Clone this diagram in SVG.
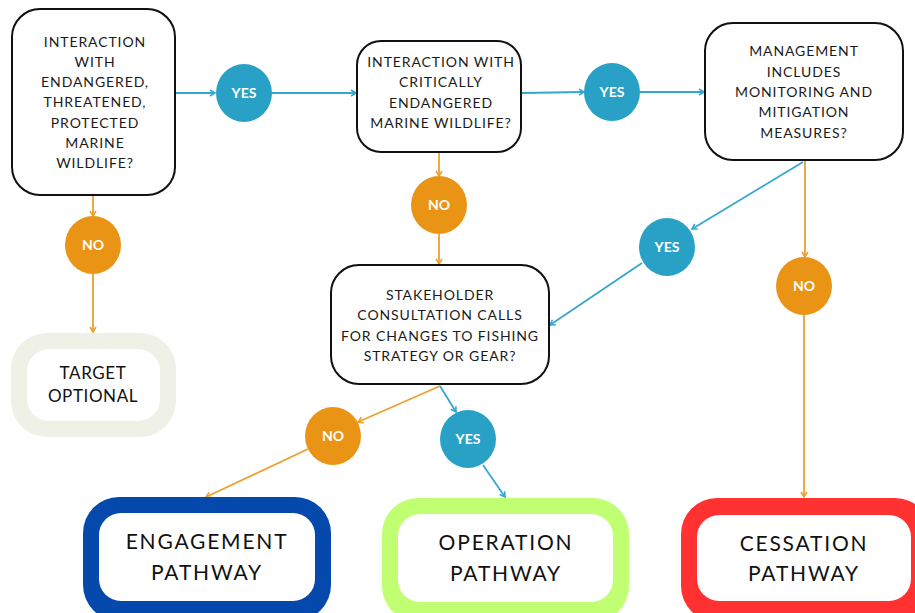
<svg xmlns="http://www.w3.org/2000/svg" width="915" height="613" viewBox="0 0 915 613">
  <style>
    .q { fill: #ffffff; stroke: #111111; stroke-width: 2; }
    .qt { font-family: Lato, "Liberation Sans", sans-serif; font-size: 14px; fill: #1a1a1a; text-anchor: middle; letter-spacing: 0.9px; }
    .tt { font-family: Lato, "Liberation Sans", sans-serif; fill: #111111; text-anchor: middle; letter-spacing: 1.8px; }
    .tt.sm { font-size: 17px; letter-spacing: 0.6px; }
    .yes { fill: #29a1c6; }
    .no { fill: #e99415; }
    .lbl { font-family: Lato, "Liberation Sans", sans-serif; font-size: 14px; font-weight: 700; fill: #ffffff; text-anchor: middle; }
    .inner { fill: #ffffff; }
    .cb { stroke: #35a6cf; stroke-width: 1.8; fill: none; }
    .co { stroke: #eda02e; stroke-width: 1.8; fill: none; }
  </style>
  <defs>
    <marker id="ab" markerWidth="8" markerHeight="8" refX="6" refY="4" orient="auto" markerUnits="userSpaceOnUse">
      <path d="M1,1 L6,4 L1,7" fill="none" stroke="#35a6cf" stroke-width="1.6"/>
    </marker>
    <marker id="ao" markerWidth="8" markerHeight="8" refX="6" refY="4" orient="auto" markerUnits="userSpaceOnUse">
      <path d="M1,1 L6,4 L1,7" fill="none" stroke="#eda02e" stroke-width="1.6"/>
    </marker>
  </defs>

  <rect width="915" height="613" fill="#ffffff"/>

  <!-- connectors -->
  <g id="connectors">
    <line class="cb" x1="176" y1="93" x2="215" y2="93" marker-end="url(#ab)"/>
    <line class="cb" x1="272" y1="93" x2="356" y2="93" marker-end="url(#ab)"/>
    <line class="cb" x1="522" y1="93" x2="584" y2="92" marker-end="url(#ab)"/>
    <line class="cb" x1="640" y1="92" x2="704" y2="92" marker-end="url(#ab)"/>
    <line class="co" x1="93" y1="196" x2="93" y2="216" marker-end="url(#ao)"/>
    <line class="co" x1="93" y1="274" x2="93" y2="332" marker-end="url(#ao)"/>
    <line class="co" x1="439" y1="153" x2="439" y2="176" marker-end="url(#ao)"/>
    <line class="co" x1="439" y1="233" x2="439" y2="264" marker-end="url(#ao)"/>
    <line class="cb" x1="803" y1="162" x2="692" y2="229" marker-end="url(#ab)"/>
    <line class="cb" x1="642" y1="263" x2="550" y2="325" marker-end="url(#ab)"/>
    <line class="co" x1="805" y1="161" x2="805" y2="257" marker-end="url(#ao)"/>
    <line class="co" x1="804" y1="315" x2="804" y2="497" marker-end="url(#ao)"/>
    <line class="co" x1="440" y1="386" x2="358" y2="422" marker-end="url(#ao)"/>
    <line class="co" x1="308" y1="449" x2="206" y2="497" marker-end="url(#ao)"/>
    <line class="cb" x1="440" y1="386" x2="456" y2="412" marker-end="url(#ab)"/>
    <line class="cb" x1="483" y1="465" x2="505" y2="497" marker-end="url(#ab)"/>
  </g>

  <!-- question boxes -->
  <g id="q-interaction">
    <rect class="q" x="12" y="9" width="163" height="186" rx="28"/>
    <text class="qt" x="95" y="47">INTERACTION</text>
    <text class="qt" x="95" y="67">WITH</text>
    <text class="qt" x="95" y="87">ENDANGERED,</text>
    <text class="qt" x="95" y="107">THREATENED,</text>
    <text class="qt" x="95" y="128">PROTECTED</text>
    <text class="qt" x="95" y="148">MARINE</text>
    <text class="qt" x="95" y="168">WILDLIFE?</text>
  </g>

  <g id="q-critical">
    <rect class="q" x="357" y="41" width="164" height="111" rx="24"/>
    <text class="qt" x="441" y="67">INTERACTION WITH</text>
    <text class="qt" x="441" y="87">CRITICALLY</text>
    <text class="qt" x="441" y="108">ENDANGERED</text>
    <text class="qt" x="441" y="128">MARINE WILDLIFE?</text>
  </g>

  <g id="q-management">
    <rect class="q" x="705" y="23" width="198" height="137" rx="28"/>
    <text class="qt" x="804" y="56">MANAGEMENT</text>
    <text class="qt" x="804" y="77">INCLUDES</text>
    <text class="qt" x="804" y="97">MONITORING AND</text>
    <text class="qt" x="804" y="117">MITIGATION</text>
    <text class="qt" x="804" y="138">MEASURES?</text>
  </g>

  <g id="q-stakeholder">
    <rect class="q" x="331" y="265" width="218" height="119" rx="28"/>
    <text class="qt" x="440" y="300">STAKEHOLDER</text>
    <text class="qt" x="440" y="320">CONSULTATION CALLS</text>
    <text class="qt" x="440" y="341">FOR CHANGES TO FISHING</text>
    <text class="qt" x="440" y="361">STRATEGY OR GEAR?</text>
  </g>

  <!-- answer badges -->
  <g id="yes-1"><ellipse class="yes" cx="244" cy="93" rx="28" ry="29"/><text class="lbl" x="244" y="98">YES</text></g>
  <g id="yes-2"><ellipse class="yes" cx="612" cy="92" rx="28" ry="29"/><text class="lbl" x="612" y="97">YES</text></g>
  <g id="no-1"><ellipse class="no" cx="93" cy="245" rx="28" ry="29"/><text class="lbl" x="93" y="250">NO</text></g>
  <g id="no-2"><ellipse class="no" cx="439" cy="205" rx="28" ry="29"/><text class="lbl" x="439" y="210">NO</text></g>
  <g id="yes-3"><ellipse class="yes" cx="667" cy="247" rx="28" ry="29"/><text class="lbl" x="667" y="252">YES</text></g>
  <g id="no-3"><ellipse class="no" cx="804" cy="286" rx="28" ry="29"/><text class="lbl" x="804" y="291">NO</text></g>
  <g id="no-4"><ellipse class="no" cx="333" cy="436" rx="28" ry="29"/><text class="lbl" x="333" y="441">NO</text></g>
  <g id="yes-4"><ellipse class="yes" cx="468" cy="439" rx="28" ry="29"/><text class="lbl" x="468" y="444">YES</text></g>

  <!-- outcomes -->
  <g id="target-optional">
    <rect x="11" y="333" width="165" height="104" rx="36" fill="#eff0e6"/>
    <rect class="inner" x="27" y="349" width="133" height="72" rx="22"/>
    <text class="tt sm" x="93" y="379">TARGET</text>
    <text class="tt sm" x="93" y="402">OPTIONAL</text>
  </g>

  <g id="engagement">
    <rect x="83" y="497" width="248" height="124" rx="36" fill="#0449ab"/>
    <rect class="inner" x="99" y="513" width="216" height="88" rx="22"/>
    <text class="tt" x="207" y="549" font-size="21">ENGAGEMENT</text>
    <text class="tt" x="207" y="580" font-size="21">PATHWAY</text>
  </g>

  <g id="operation">
    <rect x="382" y="498" width="247" height="124" rx="36" fill="#c1ff72"/>
    <rect class="inner" x="398" y="514" width="215" height="88" rx="22"/>
    <text class="tt" x="506" y="550" font-size="21">OPERATION</text>
    <text class="tt" x="506" y="581" font-size="21">PATHWAY</text>
  </g>

  <g id="cessation">
    <rect x="681" y="498" width="250" height="124" rx="36" fill="#ff3131"/>
    <rect class="inner" x="697" y="515" width="214" height="86" rx="22"/>
    <text class="tt" x="804" y="551" font-size="21">CESSATION</text>
    <text class="tt" x="804" y="581" font-size="21">PATHWAY</text>
  </g>
</svg>
